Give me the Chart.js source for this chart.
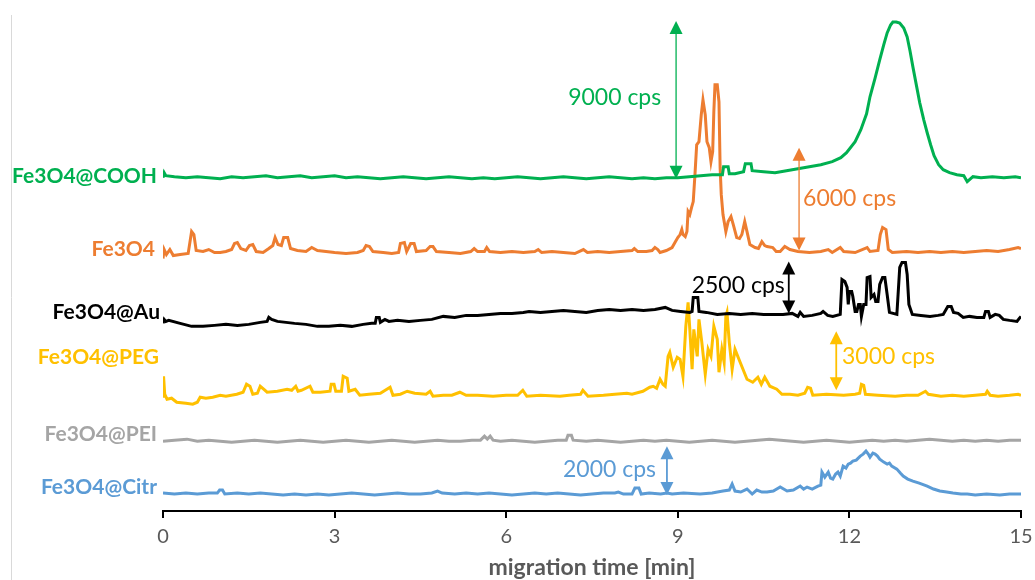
<!DOCTYPE html>
<html>
<head>
<meta charset="utf-8">
<script src="https://cdn.jsdelivr.net/npm/chart.js@4"></script>
<style>
  body { margin: 0; background: #fff; }
  canvas { display: block; }
</style>
</head>
<body>
<canvas id="traceChart" width="1035" height="580"></canvas>
<script>
// trace data: [migration time (min), signal above own baseline (a.u., as plotted)]
const traceNames = ['Fe3O4@COOH', 'Fe3O4', 'Fe3O4@Au', 'Fe3O4@PEG', 'Fe3O4@PEI', 'Fe3O4@Citr'];
const traceOffsets = [334, 259, 190, 115, 70, 17];

const coohTrace = [[0,0],[0.02,5],[0.05,2],[0.2,1],[0.4,0],[0.6,1],[0.8,0],[1.0,-1],[1.2,1],[1.4,0],[1.6,1],[1.8,2],[2.0,0],[2.2,1],[2.4,2],[2.6,0],[2.8,1],[3.0,2],[3.2,0],[3.4,1],[3.6,0],[3.8,-1],[4.0,0],[4.2,1],[4.4,0],[4.6,-1],[4.8,0],[5.0,1],[5.2,0],[5.4,-1],[5.6,0],[5.8,-1],[6.0,0],[6.2,1],[6.4,0],[6.6,-1],[6.8,0],[7.0,1],[7.2,0],[7.4,-1],[7.6,0],[7.8,1],[8.0,0],[8.2,-1],[8.4,0],[8.6,-1],[8.8,0],[9.0,0],[9.2,1],[9.4,2],[9.6,3],[9.78,3],[9.8,11],[9.88,11],[9.9,4],[10.0,4],[10.15,6],[10.18,14],[10.28,14],[10.3,7],[10.5,6],[10.7,5],[10.9,7],[11.1,9],[11.3,11],[11.5,13],[11.7,16],[11.85,20],[11.95,25],[12.1,36],[12.2,48],[12.3,64],[12.36,81],[12.45,100],[12.53,118],[12.6,133],[12.66,145],[12.72,153],[12.76,156],[12.82,156],[12.88,155],[12.95,150],[13.01,141],[13.06,127],[13.11,111],[13.17,93],[13.23,75],[13.3,58],[13.36,45],[13.42,33],[13.48,22],[13.56,13],[13.64,8],[13.75,5],[13.88,3],[14.0,2],[14.06,-4],[14.1,-2],[14.16,1],[14.3,0],[14.5,1],[14.7,0],[14.9,1],[15.0,0]];

const bareTrace = [[0,-6],[0.02,3],[0.06,-2],[0.12,3],[0.18,-3],[0.3,-2],[0.44,-1],[0.47,10],[0.5,21],[0.54,18],[0.58,2],[0.7,1],[0.8,3],[0.9,0],[1.0,0],[1.1,1],[1.2,3],[1.25,9],[1.3,10],[1.36,4],[1.45,2],[1.51,7],[1.57,8],[1.63,1],[1.75,0],[1.85,4],[1.92,7],[1.96,15],[2.01,8],[2.07,7],[2.11,15],[2.18,15],[2.23,4],[2.35,2],[2.5,1],[2.6,5],[2.7,2],[2.85,1],[3.0,0],[3.2,-1],[3.4,0],[3.5,2],[3.55,7],[3.61,6],[3.67,1],[3.85,0],[4.0,-1],[4.12,0],[4.15,9],[4.22,10],[4.26,1],[4.33,9],[4.39,9],[4.43,1],[4.6,2],[4.67,6],[4.72,6],[4.78,1],[5.0,0],[5.2,-1],[5.38,1],[5.44,4],[5.5,1],[5.62,1],[5.66,5],[5.71,1],[5.9,0],[6.1,1],[6.3,0],[6.5,1],[6.56,3],[6.62,0],[6.8,1],[7.0,0],[7.2,-1],[7.35,3],[7.42,0],[7.6,1],[7.8,0],[8.0,1],[8.2,2],[8.24,4],[8.3,1],[8.45,1],[8.55,2],[8.6,5],[8.65,3],[8.69,0],[8.8,2],[8.9,5],[8.95,10],[9.0,15],[9.04,18],[9.07,23],[9.09,18],[9.13,16],[9.16,21],[9.18,41],[9.21,38],[9.24,45],[9.27,51],[9.3,78],[9.33,108],[9.37,111],[9.41,138],[9.44,153],[9.48,138],[9.51,111],[9.55,105],[9.58,91],[9.61,101],[9.63,141],[9.65,168],[9.69,168],[9.72,151],[9.74,85],[9.76,58],[9.79,38],[9.84,21],[9.88,31],[9.93,36],[9.97,28],[10.03,15],[10.08,14],[10.12,18],[10.17,31],[10.21,21],[10.26,8],[10.35,5],[10.41,4],[10.47,11],[10.52,7],[10.56,6],[10.66,5],[10.72,1],[10.79,1],[10.87,6],[10.96,3],[11.1,1],[11.3,0],[11.5,1],[11.63,3],[11.7,0],[11.84,5],[11.9,1],[12.1,0],[12.31,5],[12.36,1],[12.5,2],[12.54,18],[12.58,25],[12.64,23],[12.68,3],[12.75,0],[13.0,1],[13.2,0],[13.4,1],[13.6,0],[13.8,1],[14.0,0],[14.2,1],[14.4,2],[14.6,1],[14.8,3],[14.95,5],[15.0,4]];

const auTrace = [[0,-2],[0.02,2],[0.05,0],[0.1,1],[0.3,-2],[0.5,-5],[0.7,-5],[0.9,-4],[1.1,-3],[1.3,-4],[1.5,-3],[1.7,-1],[1.82,0],[1.85,4],[1.9,2],[2.0,0],[2.15,-1],[2.3,-2],[2.5,-3],[2.7,-5],[2.9,-5],[3.1,-4],[3.3,-5],[3.5,-3],[3.65,-2],[3.71,-2],[3.73,4],[3.78,4],[3.8,-1],[3.88,2],[3.95,0],[4.1,1],[4.3,0],[4.5,1],[4.7,2],[4.9,5],[5.1,4],[5.3,6],[5.5,6],[5.7,7],[5.9,8],[6.1,8],[6.3,9],[6.4,10],[6.6,9],[6.8,10],[7.0,11],[7.2,10],[7.4,9],[7.6,11],[7.8,12],[8.0,11],[8.2,12],[8.4,11],[8.6,12],[8.78,14],[8.9,11],[9.05,10],[9.21,9],[9.25,10],[9.27,24],[9.35,24],[9.37,10],[9.5,9],[9.69,7],[9.9,8],[10.1,7],[10.3,8],[10.5,7],[10.7,7],[10.84,7],[11.0,8],[11.1,5],[11.14,9],[11.2,5],[11.35,6],[11.5,8],[11.54,10],[11.62,6],[11.71,5],[11.84,7],[11.87,42],[11.92,40],[11.96,34],[11.98,17],[12.0,30],[12.04,30],[12.06,25],[12.1,10],[12.13,10],[12.16,17],[12.19,17],[12.21,5],[12.25,17],[12.29,17],[12.31,44],[12.36,45],[12.38,24],[12.43,27],[12.46,20],[12.5,20],[12.53,37],[12.58,44],[12.62,44],[12.66,27],[12.7,9],[12.83,7],[12.88,54],[12.92,59],[12.98,59],[13.01,47],[13.04,17],[13.1,7],[13.25,6],[13.41,5],[13.55,6],[13.64,7],[13.72,15],[13.78,15],[13.82,9],[13.9,8],[13.99,4],[14.1,5],[14.23,4],[14.35,4],[14.38,10],[14.43,10],[14.46,4],[14.55,7],[14.62,6],[14.69,2],[14.8,1],[14.93,0],[14.97,3],[15.0,5]];

const pegTrace = [[0,0],[0.01,20],[0.03,2],[0.07,-3],[0.15,-2],[0.24,-6],[0.4,-7],[0.52,-8],[0.6,-6],[0.65,-1],[0.75,-2],[0.87,-1],[1.0,1],[1.1,0],[1.29,2],[1.4,4],[1.46,12],[1.52,10],[1.57,2],[1.65,3],[1.7,10],[1.76,7],[1.82,4],[2.0,5],[2.17,7],[2.25,6],[2.32,10],[2.36,5],[2.42,6],[2.57,10],[2.62,4],[2.75,4],[2.92,5],[2.94,12],[2.99,12],[3.02,5],[3.12,5],[3.15,20],[3.22,18],[3.25,5],[3.36,7],[3.44,1],[3.6,2],[3.8,3],[3.97,9],[4.02,1],[4.15,2],[4.27,5],[4.4,3],[4.6,2],[4.67,5],[4.72,0],[4.9,1],[5.05,1],[5.19,4],[5.3,1],[5.5,1],[5.77,0],[6.0,1],[6.2,1],[6.29,6],[6.36,0],[6.6,1],[6.94,0],[7.1,1],[7.3,2],[7.34,6],[7.43,0],[7.7,1],[7.9,2],[8.11,3],[8.2,2],[8.39,5],[8.51,9],[8.57,10],[8.63,8],[8.69,17],[8.74,12],[8.78,10],[8.83,40],[8.86,44],[8.92,29],[8.99,39],[9.04,37],[9.09,20],[9.14,70],[9.18,94],[9.21,67],[9.25,27],[9.28,67],[9.34,40],[9.37,77],[9.42,54],[9.48,22],[9.53,47],[9.58,40],[9.63,70],[9.69,57],[9.72,24],[9.77,47],[9.81,34],[9.84,80],[9.86,84],[9.9,54],[9.95,27],[10.0,47],[10.09,34],[10.21,17],[10.31,14],[10.4,19],[10.46,12],[10.52,19],[10.61,10],[10.73,7],[10.82,2],[10.96,2],[11.1,1],[11.22,3],[11.27,9],[11.32,8],[11.36,1],[11.6,2],[11.9,1],[12.1,2],[12.18,3],[12.21,12],[12.25,11],[12.28,2],[12.5,1],[12.8,0],[13.0,1],[13.2,1],[13.33,5],[13.38,2],[13.6,0],[13.8,1],[14.0,0],[14.2,1],[14.38,2],[14.41,5],[14.46,1],[14.6,0],[14.8,1],[14.95,2],[15.0,1]];

const peiTrace = [[0,0],[0.2,1],[0.42,2],[0.6,0],[0.8,1],[1.0,0],[1.2,-1],[1.4,0],[1.6,1],[1.8,0],[2.0,-1],[2.2,0],[2.4,1],[2.6,0],[2.8,-1],[3.0,0],[3.2,1],[3.4,0],[3.6,-1],[3.8,0],[4.0,1],[4.2,0],[4.4,-1],[4.6,0],[4.8,1],[5.0,0],[5.2,0],[5.4,1],[5.55,1],[5.62,5],[5.67,2],[5.72,5],[5.77,1],[5.9,0],[6.1,1],[6.3,0],[6.5,-1],[6.7,0],[6.9,1],[7.05,1],[7.08,6],[7.14,6],[7.17,1],[7.4,0],[7.6,1],[7.8,0],[8.0,-1],[8.2,0],[8.4,1],[8.6,0],[8.8,1],[9.0,0],[9.2,-1],[9.4,0],[9.6,1],[9.8,0],[10.0,-1],[10.2,0],[10.4,1],[10.6,2],[10.8,1],[11.0,0],[11.2,-1],[11.4,0],[11.6,1],[11.8,0],[12.0,-1],[12.2,0],[12.4,1],[12.6,0],[12.8,1],[13.0,0],[13.2,1],[13.4,2],[13.6,1],[13.8,0],[14.0,1],[14.2,0],[14.4,1],[14.6,0],[14.8,1],[15.0,1]];

const citrTrace = [[0,1],[0.2,0],[0.4,1],[0.6,0],[0.8,1],[0.95,1],[0.99,4],[1.04,4],[1.08,0],[1.3,1],[1.5,0],[1.7,1],[1.9,0],[2.1,-1],[2.3,0],[2.5,-1],[2.7,0],[2.9,-1],[3.1,0],[3.3,1],[3.5,0],[3.7,-1],[3.9,0],[4.1,1],[4.3,0],[4.5,0],[4.7,1],[4.8,3],[4.88,1],[5.1,0],[5.3,1],[5.5,0],[5.7,1],[5.9,0],[6.1,-1],[6.3,0],[6.5,1],[6.7,0],[6.9,1],[7.1,0],[7.3,-1],[7.5,0],[7.7,1],[7.9,1],[7.96,2],[8.05,0],[8.2,0],[8.25,6],[8.32,6],[8.36,0],[8.5,1],[8.7,0],[8.81,1],[8.9,0],[9.1,1],[9.39,0],[9.6,1],[9.79,3],[9.9,4],[9.95,10],[10.0,3],[10.1,2],[10.21,5],[10.3,0],[10.38,4],[10.47,2],[10.56,2],[10.67,3],[10.79,7],[10.91,3],[11.02,4],[11.14,8],[11.2,5],[11.26,7],[11.35,5],[11.45,8],[11.5,9],[11.52,22],[11.57,17],[11.63,22],[11.67,16],[11.71,15],[11.76,20],[11.8,22],[11.84,18],[11.89,28],[11.94,26],[11.98,30],[12.02,31],[12.06,33],[12.12,34],[12.19,38],[12.24,40],[12.29,43],[12.33,40],[12.36,37],[12.41,41],[12.45,40],[12.49,38],[12.53,35],[12.6,32],[12.66,30],[12.7,31],[12.74,28],[12.83,25],[12.89,21],[12.94,18],[13.02,15],[13.11,13],[13.22,11],[13.36,8],[13.47,5],[13.58,3],[13.7,2],[13.81,1],[13.95,0],[14.06,0],[14.2,-1],[14.4,0],[14.63,-1],[14.8,0],[15.0,0]];

const traces = [coohTrace, bareTrace, auTrace, pegTrace, peiTrace, citrTrace];
const xTicks = [0, 3, 6, 9, 12, 15];

// intensity scale bars: which trace, where, span relative to trace baseline
const barLabels = ['9000 cps', '6000 cps', '2500 cps', '3000 cps', '2000 cps'];
const barTrace = [0, 1, 2, 3, 5];
const barTimes = [8.97, 11.12, 10.94, 11.77, 8.81];
const barFrom = [-1, 2, 8, 6, -1];
const barTo = [157, 105, 60, 65, 48];

const colors = ['#00B050', '#ED7D31', '#000000', '#FFC000', '#A5A5A5', '#5B9BD5'];
const FONT = 'Lato, "Open Sans", sans-serif';

// label placement (data units)
const nameLevels = [335, 262, 199, 154, 77, 24];
const nameRight = [157, 155, 160, 159, 157, 157];
const barText = [
  { t: 8.71, y: 414, align: 'right' },
  { t: 11.19, y: 313, align: 'left' },
  { t: 10.87, y: 226, align: 'right' },
  { t: 11.87, y: 155, align: 'left' },
  { t: 8.62, y: 42, align: 'right' }
];
const barWidth = [1.3, 1.3, 1.8, 1.8, 1.8];

function arrow(ctx, x, yBottom, yTop, color, lw) {
  const head = 13, half = 6.5;
  ctx.strokeStyle = color;
  ctx.fillStyle = color;
  ctx.lineWidth = lw;
  ctx.beginPath();
  ctx.moveTo(x, yTop + head - 1);
  ctx.lineTo(x, yBottom - head + 1);
  ctx.stroke();
  ctx.beginPath();
  ctx.moveTo(x, yTop);
  ctx.lineTo(x - half, yTop + head);
  ctx.lineTo(x + half, yTop + head);
  ctx.closePath();
  ctx.fill();
  ctx.beginPath();
  ctx.moveTo(x, yBottom);
  ctx.lineTo(x - half, yBottom - head);
  ctx.lineTo(x + half, yBottom - head);
  ctx.closePath();
  ctx.fill();
}

const overlay = {
  id: 'overlay',
  afterDraw(chart) {
    const { ctx, scales: { x, y } } = chart;
    ctx.save();
    // left edge of the original frame
    ctx.strokeStyle = '#d9d9d9';
    ctx.lineWidth = 1;
    ctx.beginPath();
    ctx.moveTo(11.5, 15);
    ctx.lineTo(11.5, 580);
    ctx.stroke();

    ctx.textBaseline = 'middle';
    ctx.textAlign = 'right';
    ctx.font = 'bold 21px ' + FONT;
    traceNames.forEach((name, i) => {
      ctx.fillStyle = colors[i];
      ctx.fillText(name, nameRight[i], y.getPixelForValue(nameLevels[i]));
    });

    ctx.font = '23px ' + FONT;
    barLabels.forEach((label, i) => {
      const k = barTrace[i];
      const px = x.getPixelForValue(barTimes[i]);
      arrow(ctx, px,
        y.getPixelForValue(traceOffsets[k] + barFrom[i]),
        y.getPixelForValue(traceOffsets[k] + barTo[i]),
        colors[k], barWidth[i]);
      ctx.fillStyle = colors[k];
      ctx.textAlign = barText[i].align;
      ctx.fillText(label, x.getPixelForValue(barText[i].t), y.getPixelForValue(barText[i].y));
    });
    ctx.restore();
  }
};

const ctx = document.getElementById('traceChart').getContext('2d');
const traceChart = new Chart(ctx, {
  type: 'line',
  data: {
    datasets: traces.map((tr, i) => ({
      label: traceNames[i],
      data: tr.map(p => ({ x: p[0], y: p[1] + traceOffsets[i] })),
      borderColor: colors[i],
      borderWidth: 3,
      pointRadius: 0,
      tension: 0,
      fill: false,
      order: i
    }))
  },
  options: {
    responsive: false,
    animation: false,
    layout: { padding: { left: 163, right: 14, top: 10, bottom: 1 } },
    plugins: { legend: { display: false }, tooltip: { enabled: false } },
    scales: {
      x: {
        type: 'linear',
        min: 0,
        max: 15,
        afterBuildTicks: axis => { axis.ticks = xTicks.map(v => ({ value: v })); },
        afterFit: axis => { axis.paddingLeft = 0; axis.paddingRight = 0; },
        ticks: { color: '#595959', font: { family: FONT, size: 20 }, padding: 7, maxRotation: 0 },
        grid: { drawOnChartArea: false, drawTicks: true, tickLength: 7, color: '#000', lineWidth: 2 },
        border: { color: '#000', width: 2 },
        title: {
          display: true,
          text: 'migration time [min]',
          color: '#595959',
          font: { family: FONT, size: 23, weight: 'bold', lineHeight: 1 },
          padding: { top: 0, bottom: 0 }
        }
      },
      y: { display: false, min: 0, max: 502 }
    }
  },
  plugins: [overlay]
});
</script>
</body>
</html>
